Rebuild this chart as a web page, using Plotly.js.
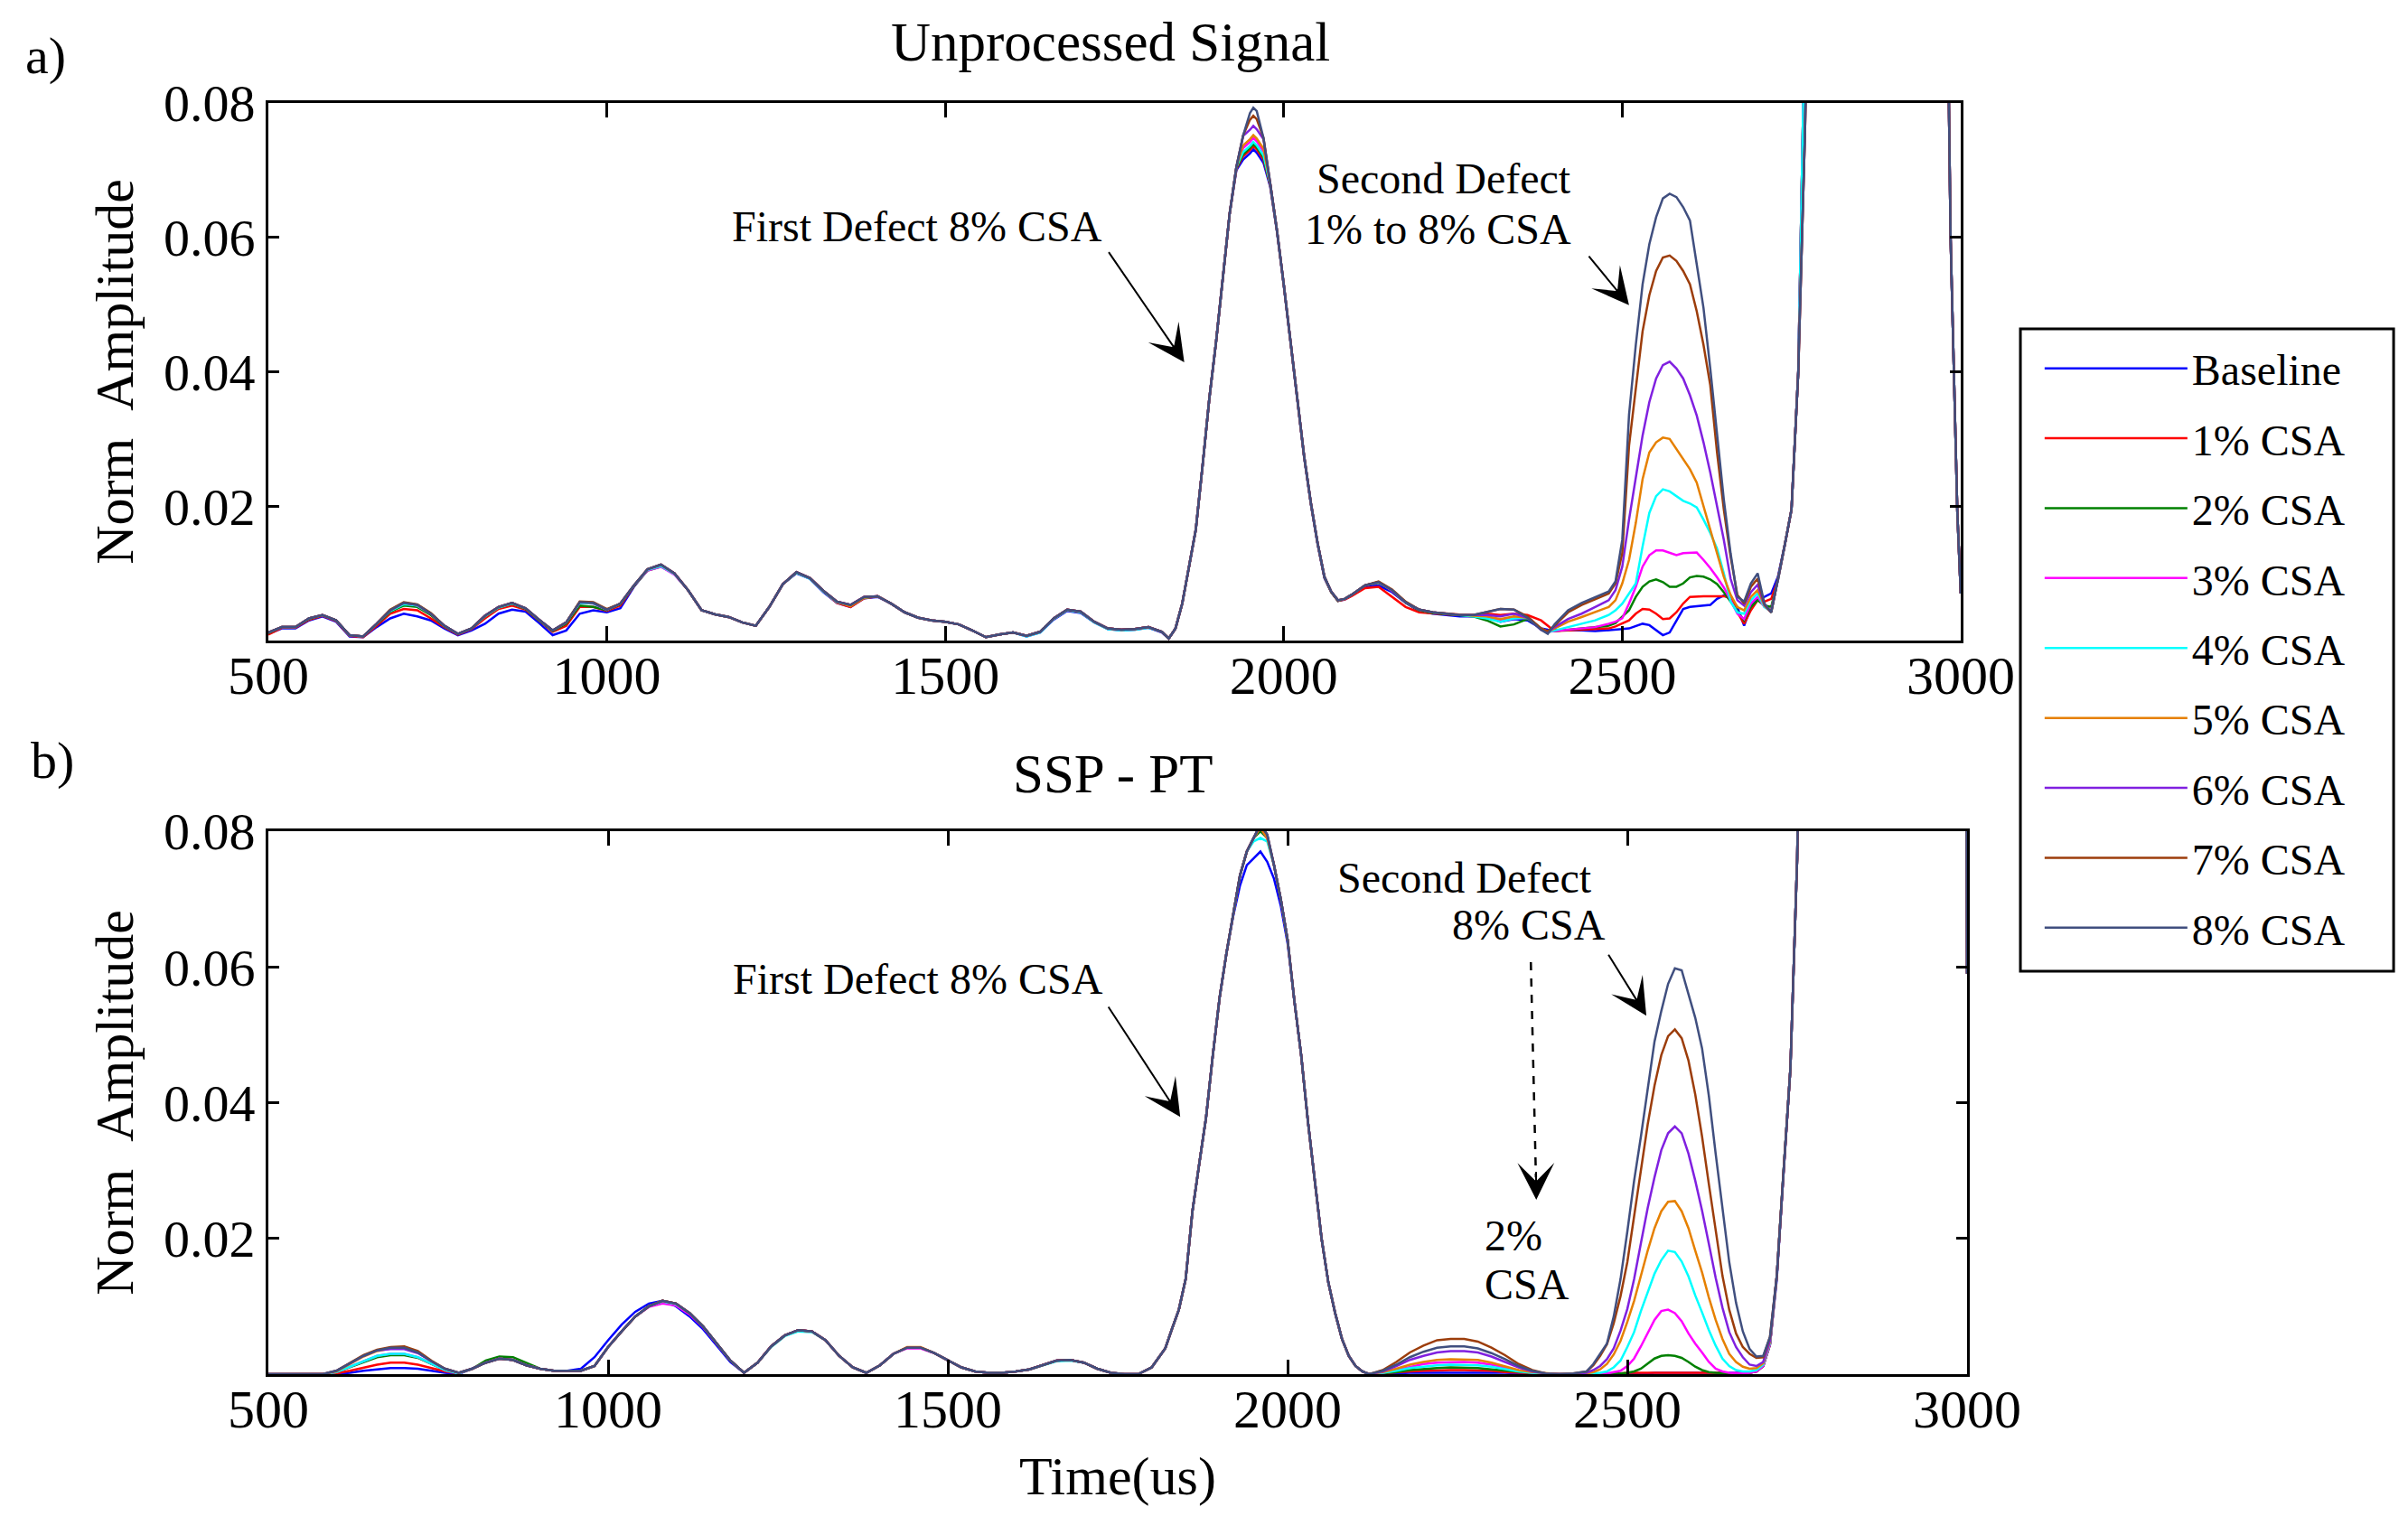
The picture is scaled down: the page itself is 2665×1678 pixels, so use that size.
<!DOCTYPE html>
<html>
<head>
<meta charset="utf-8">
<script src="https://cdn.plot.ly/plotly-3.0.1.min.js"></script>
<style>html,body{margin:0;padding:0;background:#fff}</style>
</head>
<body>
<div id="chart" style="width:2665px;height:1678px"></div>
<script>
// ---------- DATA ----------
const SERIES_NAMES = ['Baseline','1% CSA','2% CSA','3% CSA','4% CSA','5% CSA','6% CSA','7% CSA','8% CSA'];

// time axis, panel a) Unprocessed Signal
const TIME_TOP = [
500,520,540,560,580,600,620,640,660,680,
700,720,740,760,780,800,820,840,860,880,
900,920,940,960,980,1000,1020,1040,1060,1080,
1100,1120,1140,1160,1180,1200,1220,1240,1260,1280,
1300,1320,1340,1360,1380,1400,1420,1440,1460,1480,
1500,1520,1540,1560,1580,1600,1620,1640,1660,1680,
1700,1720,1740,1760,1780,1800,1820,1830,1840,1850,
1860,1870,1880,1890,1900,1910,1920,1930,1940,1950,
1955,1960,1970,1980,1990,2000,2010,2020,2030,2040,
2050,2060,2070,2080,2090,2100,2120,2140,2160,2180,
2200,2220,2240,2260,2280,2300,2320,2340,2360,2380,
2390,2400,2420,2440,2460,2480,2490,2500,2510,2520,
2530,2540,2550,2560,2570,2580,2590,2600,2610,2620,
2630,2640,2650,2660,2670,2680,2690,2700,2710,2720,
2730,2740,2750,2760,2770,2780,2800,2850,2900,2950,
2970,2980,2985,2990,2995,3000];

const TOP_BASELINE = [
.0010,.0018,.0018,.0030,.0036,.0028,.0006,.0005,.0020,.0033,
.0040,.0036,.0030,.0018,.0008,.0015,.0025,.0040,.0046,.0043,
.0026,.0008,.0015,.0040,.0045,.0042,.0048,.0080,.0105,.0112,
.0100,.0075,.0045,.0039,.0035,.0027,.0022,.0050,.0084,.0100,
.0092,.0072,.0056,.0050,.0063,.0065,.0055,.0042,.0034,.0030,
.0028,.0024,.0015,.0005,.0009,.0012,.0006,.0012,.0031,.0044,
.0041,.0027,.0017,.0015,.0016,.0019,.0012,.0003,.0018,.0055,
.0110,.0165,.0260,.0360,.0445,.0540,.0635,.0700,.0716,.0725,
.0731,.0726,.0711,.0675,.0608,.0528,.0445,.0356,.0273,.0203,
.0143,.0093,.0072,.0059,.0061,.0067,.0080,.0082,.0072,.0056,
.0044,.0040,.0038,.0036,.0036,.0035,.0028,.0032,.0030,.0018,
.0016,.0016,.0016,.0015,.0014,.0015,.0016,.0017,.0018,.0022,
.0025,.0023,.0016,.0008,.0012,.0030,.0047,.0050,.0051,.0051,
.0053,.0062,.0067,.0063,.0050,.0022,.0050,.0062,.0065,.0070,
.0095,.0142,.0195,.0400,.0760,.1200,.2500,.6000,.8000,.5000,
.2000,.1000,.0600,.0380,.0190,.0070];

const TOP_CSA1 = [
.0009,.0019,.0019,.0031,.0037,.0029,.0007,.0005,.0022,.0040,
.0047,.0045,.0033,.0020,.0009,.0017,.0033,.0047,.0052,.0046,
.0030,.0013,.0022,.0050,.0050,.0044,.0052,.0081,.0105,.0112,
.0100,.0075,.0045,.0039,.0035,.0027,.0022,.0050,.0084,.0101,
.0093,.0073,.0056,.0050,.0063,.0066,.0055,.0042,.0034,.0030,
.0028,.0024,.0015,.0005,.0009,.0012,.0007,.0013,.0032,.0045,
.0042,.0028,.0018,.0016,.0017,.0020,.0013,.0003,.0018,.0055,
.0110,.0165,.0260,.0360,.0445,.0540,.0635,.0702,.0721,.0730,
.0736,.0731,.0716,.0677,.0609,.0529,.0446,.0357,.0274,.0204,
.0144,.0094,.0072,.0059,.0061,.0066,.0078,.0080,.0065,.0050,
.0042,.0040,.0039,.0038,.0038,.0040,.0038,.0040,.0038,.0030,
.0022,.0014,.0015,.0016,.0017,.0018,.0021,.0025,.0030,.0040,
.0047,.0046,.0040,.0032,.0033,.0042,.0055,.0065,.0066,.0066,
.0066,.0066,.0066,.0063,.0042,.0025,.0045,.0060,.0058,.0062,
.0090,.0142,.0195,.0400,.0760,.1200,.2500,.6000,.8000,.5000,
.2000,.1000,.0600,.0380,.0190,.0070];

const TOP_CSA2 = [
.0011,.0020,.0020,.0032,.0038,.0030,.0008,.0006,.0024,.0043,
.0052,.0050,.0038,.0021,.0010,.0018,.0036,.0049,.0055,.0047,
.0030,.0014,.0025,.0052,.0050,.0045,.0054,.0081,.0104,.0110,
.0099,.0075,.0045,.0039,.0035,.0027,.0022,.0050,.0084,.0101,
.0093,.0074,.0058,.0052,.0064,.0066,.0055,.0042,.0034,.0030,
.0028,.0024,.0015,.0005,.0009,.0012,.0007,.0013,.0033,.0046,
.0043,.0028,.0018,.0016,.0017,.0020,.0013,.0003,.0018,.0055,
.0110,.0165,.0260,.0360,.0445,.0540,.0635,.0703,.0724,.0733,
.0739,.0734,.0719,.0678,.0609,.0529,.0446,.0357,.0274,.0204,
.0144,.0094,.0072,.0059,.0062,.0068,.0082,.0086,.0074,.0056,
.0045,.0041,.0039,.0037,.0036,.0030,.0021,.0024,.0032,.0018,
.0013,.0014,.0016,.0017,.0019,.0022,.0026,.0035,.0045,.0065,
.0080,.0088,.0091,.0087,.0080,.0080,.0085,.0094,.0096,.0095,
.0091,.0084,.0072,.0058,.0044,.0030,.0050,.0060,.0052,.0050,
.0090,.0142,.0195,.0400,.0760,.1200,.2500,.6000,.8000,.5000,
.2000,.1000,.0600,.0380,.0190,.0070];

const TOP_CSA3 = [
.0012,.0020,.0020,.0033,.0038,.0030,.0008,.0006,.0025,.0045,
.0055,.0052,.0040,.0022,.0010,.0018,.0037,.0050,.0056,.0048,
.0031,.0015,.0027,.0056,.0055,.0046,.0055,.0082,.0104,.0110,
.0098,.0075,.0045,.0039,.0035,.0027,.0022,.0050,.0084,.0102,
.0093,.0074,.0058,.0053,.0065,.0066,.0055,.0042,.0034,.0030,
.0028,.0024,.0015,.0005,.0009,.0012,.0007,.0013,.0033,.0046,
.0043,.0028,.0018,.0016,.0017,.0020,.0013,.0003,.0018,.0055,
.0110,.0165,.0260,.0360,.0445,.0540,.0635,.0705,.0733,.0742,
.0748,.0743,.0728,.0679,.0610,.0530,.0447,.0358,.0275,.0205,
.0145,.0095,.0073,.0060,.0062,.0068,.0082,.0087,.0074,.0057,
.0046,.0042,.0040,.0038,.0037,.0035,.0030,.0033,.0034,.0018,
.0013,.0014,.0016,.0018,.0020,.0025,.0028,.0033,.0055,.0080,
.0110,.0127,.0134,.0134,.0130,.0127,.0130,.0131,.0131,.0120,
.0108,.0094,.0079,.0060,.0040,.0032,.0055,.0065,.0050,.0045,
.0090,.0142,.0195,.0400,.0760,.1200,.2500,.6000,.8000,.5000,
.2000,.1000,.0600,.0380,.0190,.0070];

const TOP_CSA4 = [
.0012,.0020,.0020,.0033,.0038,.0030,.0008,.0006,.0025,.0044,
.0054,.0052,.0040,.0022,.0010,.0018,.0036,.0049,.0055,.0048,
.0031,.0015,.0027,.0056,.0055,.0046,.0055,.0082,.0105,.0111,
.0099,.0075,.0045,.0039,.0035,.0027,.0022,.0050,.0084,.0101,
.0092,.0073,.0057,.0052,.0064,.0066,.0055,.0042,.0034,.0030,
.0028,.0024,.0015,.0005,.0009,.0012,.0006,.0012,.0032,.0045,
.0042,.0027,.0017,.0015,.0016,.0019,.0013,.0003,.0018,.0055,
.0110,.0165,.0260,.0360,.0445,.0540,.0635,.0705,.0727,.0736,
.0742,.0737,.0722,.0679,.0610,.0530,.0447,.0358,.0275,.0205,
.0145,.0095,.0073,.0060,.0062,.0068,.0082,.0087,.0075,.0057,
.0046,.0042,.0040,.0037,.0036,.0033,.0028,.0033,.0034,.0018,
.0013,.0015,.0020,.0025,.0030,.0038,.0045,.0055,.0070,.0085,
.0140,.0190,.0215,.0225,.0222,.0215,.0208,.0204,.0198,.0180,
.0160,.0137,.0100,.0058,.0042,.0040,.0060,.0070,.0050,.0043,
.0090,.0142,.0195,.0400,.0760,.1200,.2500,.6000,.8000,.5000,
.2000,.1000,.0600,.0380,.0190,.0070];

const TOP_CSA5 = [
.0012,.0020,.0020,.0033,.0038,.0030,.0008,.0006,.0025,.0045,
.0056,.0053,.0040,.0022,.0010,.0018,.0037,.0050,.0056,.0048,
.0031,.0015,.0027,.0057,.0056,.0046,.0055,.0082,.0106,.0113,
.0100,.0075,.0045,.0039,.0035,.0027,.0022,.0050,.0084,.0102,
.0093,.0074,.0058,.0051,.0064,.0066,.0055,.0042,.0034,.0030,
.0028,.0024,.0015,.0005,.0009,.0012,.0007,.0013,.0033,.0046,
.0043,.0028,.0018,.0016,.0017,.0020,.0013,.0003,.0018,.0055,
.0110,.0165,.0260,.0360,.0445,.0540,.0635,.0705,.0737,.0746,
.0752,.0747,.0732,.0680,.0610,.0530,.0447,.0358,.0275,.0205,
.0145,.0095,.0073,.0060,.0062,.0068,.0082,.0087,.0075,.0057,
.0046,.0042,.0040,.0038,.0037,.0036,.0032,.0036,.0034,.0018,
.0013,.0018,.0028,.0035,.0042,.0050,.0060,.0085,.0120,.0175,
.0240,.0280,.0295,.0302,.0300,.0285,.0270,.0255,.0235,.0200,
.0168,.0130,.0095,.0068,.0050,.0045,.0065,.0075,.0052,.0042,
.0090,.0142,.0195,.0400,.0760,.1200,.2500,.6000,.8000,.5000,
.2000,.1000,.0600,.0380,.0190,.0070];

const TOP_CSA6 = [
.0012,.0020,.0020,.0033,.0038,.0030,.0008,.0006,.0025,.0045,
.0056,.0053,.0040,.0022,.0010,.0018,.0037,.0050,.0056,.0048,
.0031,.0015,.0027,.0057,.0056,.0046,.0055,.0082,.0106,.0113,
.0100,.0075,.0045,.0039,.0035,.0027,.0022,.0050,.0084,.0102,
.0093,.0074,.0058,.0053,.0065,.0066,.0055,.0042,.0034,.0030,
.0028,.0024,.0015,.0005,.0009,.0012,.0007,.0013,.0033,.0046,
.0043,.0028,.0018,.0016,.0017,.0020,.0013,.0003,.0018,.0055,
.0110,.0165,.0260,.0360,.0445,.0540,.0635,.0705,.0751,.0760,
.0766,.0761,.0746,.0680,.0610,.0530,.0447,.0358,.0275,.0205,
.0145,.0095,.0073,.0060,.0062,.0068,.0082,.0087,.0075,.0057,
.0046,.0042,.0040,.0038,.0038,.0038,.0036,.0040,.0034,.0016,
.0012,.0020,.0032,.0040,.0050,.0060,.0075,.0110,.0180,.0245,
.0305,.0355,.0390,.0410,.0415,.0405,.0390,.0365,.0335,.0295,
.0250,.0200,.0150,.0092,.0060,.0052,.0072,.0083,.0053,.0042,
.0090,.0142,.0195,.0400,.0760,.1200,.2500,.6000,.8000,.5000,
.2000,.1000,.0600,.0380,.0190,.0070];

const TOP_CSA7 = [
.0012,.0020,.0020,.0033,.0038,.0030,.0008,.0006,.0025,.0046,
.0057,.0054,.0041,.0022,.0010,.0018,.0037,.0050,.0056,.0048,
.0031,.0015,.0027,.0058,.0057,.0047,.0055,.0082,.0106,.0113,
.0100,.0075,.0045,.0039,.0035,.0027,.0022,.0050,.0084,.0102,
.0093,.0074,.0058,.0053,.0065,.0066,.0055,.0042,.0034,.0030,
.0028,.0024,.0015,.0005,.0009,.0012,.0007,.0013,.0033,.0046,
.0043,.0028,.0018,.0016,.0017,.0020,.0013,.0003,.0018,.0055,
.0110,.0165,.0260,.0360,.0445,.0540,.0635,.0705,.0752,.0775,
.0781,.0776,.0748,.0680,.0610,.0530,.0447,.0358,.0275,.0205,
.0145,.0095,.0073,.0060,.0062,.0068,.0082,.0088,.0076,.0058,
.0046,.0042,.0040,.0038,.0038,.0043,.0047,.0046,.0036,.0018,
.0014,.0022,.0042,.0053,.0062,.0070,.0085,.0130,.0290,.0375,
.0460,.0514,.0550,.0570,.0573,.0565,.0550,.0530,.0490,.0440,
.0380,.0280,.0195,.0125,.0068,.0055,.0080,.0092,.0054,.0042,
.0090,.0142,.0195,.0400,.0760,.1200,.2500,.6000,.8000,.5000,
.2000,.1000,.0600,.0380,.0190,.0070];

const TOP_CSA8 = [
.0012,.0020,.0020,.0033,.0038,.0030,.0008,.0006,.0025,.0045,
.0056,.0053,.0040,.0022,.0010,.0018,.0037,.0050,.0056,.0048,
.0031,.0015,.0027,.0057,.0056,.0046,.0055,.0082,.0106,.0113,
.0100,.0075,.0045,.0039,.0035,.0027,.0022,.0050,.0084,.0102,
.0093,.0074,.0058,.0053,.0065,.0066,.0055,.0042,.0034,.0030,
.0028,.0024,.0015,.0005,.0009,.0012,.0007,.0013,.0033,.0046,
.0043,.0028,.0018,.0016,.0017,.0020,.0013,.0003,.0018,.0055,
.0110,.0165,.0260,.0360,.0445,.0540,.0635,.0705,.0752,.0785,
.0793,.0788,.0748,.0680,.0610,.0530,.0447,.0358,.0275,.0205,
.0145,.0095,.0073,.0060,.0062,.0068,.0082,.0087,.0075,.0057,
.0046,.0042,.0040,.0038,.0038,.0043,.0047,.0046,.0034,.0016,
.0010,.0024,.0045,.0056,.0064,.0073,.0088,.0150,.0336,.0440,
.0530,.0590,.0630,.0658,.0665,.0660,.0645,.0625,.0560,.0495,
.0405,.0306,.0210,.0130,.0065,.0058,.0085,.0100,.0055,.0042,
.0090,.0142,.0195,.0400,.0760,.1200,.2500,.6000,.8000,.5000,
.2000,.1000,.0600,.0380,.0190,.0070];

// time axis, panel b) SSP - PT
const TIME_BOT = [
500,520,540,560,580,600,620,640,660,680,
700,720,740,760,780,800,820,840,860,880,
900,920,940,960,980,1000,1020,1040,1060,1080,
1100,1120,1140,1160,1180,1200,1220,1240,1260,1280,
1300,1320,1340,1360,1380,1400,1420,1440,1460,1480,
1500,1520,1540,1560,1580,1600,1620,1640,1660,1680,
1700,1720,1740,1760,1780,1800,1820,1830,1840,1850,
1860,1870,1880,1890,1900,1910,1920,1930,1940,1950,
1960,1970,1980,1990,2000,2010,2020,2030,2040,2050,
2060,2070,2080,2090,2100,2110,2120,2140,2160,2180,
2200,2220,2240,2260,2280,2300,2320,2340,2360,2380,
2400,2420,2440,2450,2460,2470,2480,2490,2500,2510,
2520,2530,2540,2550,2560,2570,2580,2590,2600,2610,
2620,2630,2640,2650,2660,2670,2680,2690,2700,2710,
2720,2730,2740,2750,2760,2780,2850,2900,2950,2980,
2990,2997,3000];

const BOT_BASELINE = [
0,0,0,0,0,0,.0002,.0005,.0007,.0009,
.0009,.0008,.0005,.0002,0,.0008,.0017,.0023,.0021,.0013,
.0008,.0005,.0005,.0008,.0025,.0050,.0073,.0092,.0104,.0108,
.0100,.0085,.0066,.0042,.0018,.0002,.0017,.0041,.0057,.0065,
.0063,.0050,.0027,.0010,.0002,.0013,.0030,.0039,.0039,.0031,
.0020,.0010,.0004,.0002,.0002,.0004,.0007,.0014,.0020,.0021,
.0017,.0008,.0002,0,0,.0010,.0038,.0067,.0095,.0140,
.0240,.0310,.0378,.0470,.0555,.0620,.0675,.0720,.0750,.0760,
.0770,.0755,.0730,.0690,.0635,.0550,.0470,.0372,.0285,.0200,
.0135,.0090,.0052,.0027,.0012,.0004,0,0,.0001,.0002,
.0002,.0003,.0003,.0003,.0003,.0002,.0002,.0001,0,0,
0,0,0,.0001,.0001,.0001,.0001,.0001,.0001,.0001,
.0001,.0001,.0002,.0002,.0002,.0002,.0002,.0002,.0002,.0002,
.0001,.0001,.0001,.0001,.0001,.0001,.0002,.0004,.0012,.0044,
.0140,.0300,.0450,.0760,.1200,.3000,.8000,1.0000,.7000,.4000,
.3000,.1500,.0590];

const BOT_CSA1 = [
0,0,0,0,0,.0001,.0005,.0010,.0014,.0017,
.0017,.0014,.0009,.0004,.0001,.0008,.0017,.0023,.0021,.0013,
.0008,.0005,.0005,.0005,.0012,.0040,.0063,.0085,.0100,.0108,
.0104,.0090,.0070,.0045,.0020,.0002,.0017,.0041,.0057,.0065,
.0063,.0050,.0027,.0010,.0002,.0013,.0030,.0039,.0039,.0031,
.0020,.0010,.0004,.0002,.0002,.0004,.0007,.0014,.0020,.0021,
.0017,.0008,.0002,0,0,.0010,.0038,.0067,.0095,.0140,
.0240,.0310,.0378,.0470,.0555,.0620,.0680,.0735,.0770,.0790,
.0805,.0790,.0750,.0700,.0640,.0550,.0470,.0372,.0285,.0200,
.0135,.0090,.0052,.0027,.0012,.0004,0,.0001,.0002,.0004,
.0005,.0006,.0006,.0006,.0006,.0005,.0003,.0002,.0001,0,
0,0,0,.0001,.0001,.0001,.0001,.0001,.0002,.0002,
.0002,.0002,.0003,.0003,.0003,.0003,.0003,.0003,.0003,.0003,
.0002,.0002,.0002,.0001,.0001,.0001,.0002,.0004,.0012,.0044,
.0145,.0300,.0450,.0760,.1200,.3000,.8000,1.0000,.7000,.4000,
.3000,.1500,.0590];

const BOT_CSA2 = [
0,0,0,0,0,.0003,.0010,.0018,.0025,.0028,
.0028,.0024,.0015,.0006,.0001,.0008,.0020,.0026,.0025,.0016,
.0008,.0005,.0005,.0005,.0012,.0040,.0063,.0085,.0100,.0108,
.0104,.0090,.0070,.0045,.0020,.0002,.0017,.0041,.0057,.0065,
.0063,.0050,.0027,.0010,.0002,.0013,.0030,.0039,.0039,.0031,
.0020,.0010,.0004,.0002,.0002,.0004,.0007,.0014,.0020,.0021,
.0017,.0008,.0002,0,0,.0010,.0038,.0067,.0095,.0140,
.0240,.0310,.0378,.0470,.0555,.0620,.0680,.0735,.0770,.0790,
.0800,.0790,.0750,.0700,.0640,.0550,.0470,.0372,.0285,.0200,
.0135,.0090,.0052,.0027,.0012,.0004,0,.0001,.0003,.0006,
.0008,.0009,.0010,.0010,.0009,.0007,.0005,.0003,.0001,0,
0,0,0,0,0,0,0,.0001,.0002,.0004,
.0008,.0016,.0023,.0027,.0028,.0027,.0024,.0018,.0011,.0006,
.0003,.0002,.0001,.0001,.0001,.0001,.0002,.0004,.0012,.0044,
.0145,.0300,.0450,.0760,.1200,.3000,.8000,1.0000,.7000,.4000,
.3000,.1500,.0590];

const BOT_CSA3 = [
0,0,0,0,0,.0003,.0011,.0020,.0027,.0030,
.0030,.0025,.0016,.0006,.0001,.0008,.0017,.0023,.0021,.0013,
.0008,.0005,.0005,.0005,.0012,.0040,.0063,.0085,.0099,.0104,
.0101,.0088,.0069,.0045,.0020,.0002,.0017,.0041,.0057,.0065,
.0063,.0050,.0027,.0010,.0002,.0013,.0030,.0038,.0038,.0031,
.0020,.0010,.0004,.0002,.0002,.0004,.0007,.0014,.0020,.0021,
.0017,.0008,.0002,0,0,.0010,.0038,.0067,.0095,.0140,
.0240,.0310,.0378,.0470,.0555,.0620,.0680,.0735,.0770,.0790,
.0805,.0790,.0750,.0700,.0640,.0550,.0470,.0372,.0285,.0200,
.0135,.0090,.0052,.0027,.0012,.0004,0,.0002,.0006,.0011,
.0015,.0017,.0018,.0018,.0017,.0014,.0010,.0005,.0002,0,
0,0,0,0,0,.0001,.0003,.0005,.0012,.0023,
.0041,.0061,.0080,.0093,.0095,.0090,.0078,.0060,.0045,.0032,
.0018,.0008,.0004,.0002,.0001,.0001,.0002,.0004,.0012,.0044,
.0145,.0300,.0450,.0760,.1200,.3000,.8000,1.0000,.7000,.4000,
.3000,.1500,.0590];

const BOT_CSA4 = [
0,0,0,0,0,.0003,.0011,.0020,.0027,.0030,
.0030,.0025,.0016,.0006,.0001,.0008,.0017,.0023,.0021,.0013,
.0008,.0005,.0005,.0005,.0012,.0040,.0063,.0085,.0100,.0107,
.0103,.0090,.0070,.0045,.0020,.0002,.0017,.0040,.0056,.0063,
.0062,.0050,.0027,.0010,.0002,.0013,.0030,.0039,.0039,.0031,
.0020,.0010,.0004,.0002,.0002,.0004,.0007,.0013,.0019,.0020,
.0017,.0008,.0002,0,0,.0010,.0038,.0067,.0095,.0140,
.0240,.0310,.0378,.0470,.0555,.0620,.0680,.0735,.0770,.0785,
.0790,.0785,.0750,.0700,.0640,.0550,.0470,.0372,.0285,.0200,
.0135,.0090,.0052,.0027,.0012,.0004,0,.0002,.0005,.0009,
.0011,.0013,.0014,.0014,.0013,.0011,.0007,.0004,.0002,0,
0,0,0,.0001,.0002,.0004,.0010,.0020,.0040,.0062,
.0093,.0122,.0148,.0168,.0182,.0180,.0166,.0144,.0116,.0091,
.0065,.0042,.0023,.0012,.0006,.0004,.0004,.0006,.0014,.0046,
.0145,.0300,.0450,.0760,.1200,.3000,.8000,1.0000,.7000,.4000,
.3000,.1500,.0590];

const BOT_CSA5 = [
0,0,0,0,0,.0004,.0015,.0026,.0034,.0038,
.0038,.0032,.0019,.0008,.0002,.0008,.0017,.0023,.0021,.0013,
.0008,.0005,.0005,.0005,.0012,.0040,.0063,.0085,.0100,.0108,
.0104,.0090,.0070,.0045,.0020,.0002,.0017,.0041,.0057,.0065,
.0063,.0050,.0027,.0010,.0002,.0013,.0030,.0040,.0040,.0031,
.0020,.0010,.0004,.0002,.0002,.0004,.0007,.0014,.0020,.0021,
.0017,.0008,.0002,0,0,.0010,.0038,.0067,.0095,.0140,
.0240,.0310,.0378,.0470,.0555,.0620,.0680,.0735,.0770,.0790,
.0805,.0790,.0750,.0700,.0640,.0550,.0470,.0372,.0285,.0200,
.0135,.0090,.0052,.0027,.0012,.0004,0,.0003,.0008,.0014,
.0018,.0021,.0022,.0022,.0021,.0017,.0012,.0006,.0003,.0001,
0,0,.0001,.0003,.0007,.0015,.0029,.0049,.0077,.0108,
.0146,.0182,.0215,.0240,.0254,.0255,.0240,.0215,.0182,.0150,
.0113,.0080,.0052,.0030,.0018,.0011,.0008,.0009,.0016,.0048,
.0145,.0300,.0450,.0760,.1200,.3000,.8000,1.0000,.7000,.4000,
.3000,.1500,.0590];

const BOT_CSA6 = [
0,0,0,0,0,.0005,.0016,.0027,.0035,.0037,
.0037,.0031,.0019,.0008,.0002,.0008,.0017,.0023,.0021,.0013,
.0008,.0005,.0005,.0005,.0012,.0040,.0063,.0085,.0100,.0108,
.0104,.0090,.0070,.0045,.0020,.0002,.0017,.0041,.0057,.0065,
.0063,.0050,.0027,.0010,.0002,.0013,.0030,.0039,.0039,.0031,
.0020,.0010,.0004,.0002,.0002,.0004,.0007,.0014,.0020,.0021,
.0017,.0008,.0002,0,0,.0010,.0038,.0067,.0095,.0140,
.0240,.0310,.0378,.0470,.0555,.0620,.0680,.0735,.0770,.0790,
.0810,.0795,.0750,.0700,.0640,.0550,.0470,.0372,.0285,.0200,
.0135,.0090,.0052,.0027,.0012,.0004,0,.0004,.0012,.0021,
.0027,.0032,.0034,.0034,.0032,.0026,.0018,.0010,.0004,.0001,
0,0,.0002,.0006,.0012,.0022,.0038,.0064,.0096,.0140,
.0193,.0245,.0290,.0330,.0355,.0365,.0355,.0325,.0285,.0241,
.0192,.0142,.0098,.0062,.0040,.0025,.0014,.0012,.0018,.0050,
.0145,.0300,.0450,.0760,.1200,.3000,.8000,1.0000,.7000,.4000,
.3000,.1500,.0590];

const BOT_CSA7 = [
0,0,0,0,0,.0005,.0017,.0028,.0036,.0040,
.0041,.0034,.0020,.0008,.0002,.0008,.0017,.0023,.0021,.0013,
.0008,.0005,.0005,.0005,.0012,.0040,.0063,.0085,.0100,.0108,
.0104,.0090,.0070,.0045,.0020,.0002,.0017,.0041,.0057,.0065,
.0063,.0050,.0027,.0010,.0002,.0013,.0030,.0039,.0039,.0031,
.0020,.0010,.0004,.0002,.0002,.0004,.0007,.0014,.0020,.0021,
.0017,.0008,.0002,0,0,.0010,.0038,.0067,.0095,.0140,
.0240,.0310,.0378,.0470,.0555,.0620,.0680,.0735,.0770,.0790,
.0810,.0795,.0750,.0700,.0640,.0550,.0470,.0372,.0285,.0200,
.0135,.0090,.0052,.0027,.0012,.0004,0,.0006,.0018,.0032,
.0042,.0050,.0052,.0052,.0048,.0039,.0028,.0015,.0006,.0001,
0,.0001,.0004,.0013,.0027,.0044,.0075,.0115,.0165,.0232,
.0298,.0368,.0425,.0470,.0498,.0508,.0495,.0462,.0412,.0350,
.0280,.0210,.0145,.0095,.0060,.0040,.0030,.0024,.0025,.0055,
.0145,.0300,.0450,.0760,.1200,.3000,.8000,1.0000,.7000,.4000,
.3000,.1500,.0590];

const BOT_CSA8 = [
0,0,0,0,0,.0005,.0016,.0027,.0035,.0039,
.0039,.0032,.0019,.0008,.0002,.0008,.0017,.0023,.0021,.0013,
.0008,.0005,.0005,.0005,.0012,.0040,.0063,.0085,.0100,.0108,
.0104,.0090,.0070,.0045,.0020,.0002,.0017,.0041,.0057,.0065,
.0063,.0050,.0027,.0010,.0002,.0013,.0030,.0039,.0039,.0031,
.0020,.0010,.0004,.0002,.0002,.0004,.0007,.0014,.0020,.0021,
.0017,.0008,.0002,0,0,.0010,.0038,.0067,.0095,.0140,
.0240,.0310,.0378,.0470,.0555,.0620,.0680,.0735,.0770,.0790,
.0810,.0795,.0750,.0700,.0640,.0550,.0470,.0372,.0285,.0200,
.0135,.0090,.0052,.0027,.0012,.0004,0,.0005,.0014,.0025,
.0033,.0039,.0041,.0041,.0038,.0031,.0022,.0012,.0005,.0001,
0,.0001,.0004,.0015,.0030,.0045,.0085,.0140,.0210,.0285,
.0350,.0420,.0490,.0535,.0575,.0598,.0595,.0560,.0525,.0480,
.0410,.0325,.0245,.0165,.0105,.0063,.0037,.0026,.0027,.0055,
.0145,.0300,.0450,.0760,.1200,.3000,.8000,1.0000,.7000,.4000,
.3000,.1500,.0590];

const Y_TICKS = [0.02, 0.04, 0.06, 0.08];
const Y_TICK_LABELS = ['0.02', '0.04', '0.06', '0.08'];
const X_TICKS = [500, 1000, 1500, 2000, 2500, 3000];

// ---------- STYLE ----------
const COLORS = ['#0000ff','#ff0000','#008000','#ff00ff','#00ffff','#e68000','#8020e0','#9c3d0b','#404f7f'];
const TOP_VALUES = [TOP_BASELINE, TOP_CSA1, TOP_CSA2, TOP_CSA3, TOP_CSA4, TOP_CSA5, TOP_CSA6, TOP_CSA7, TOP_CSA8];
const BOT_VALUES = [BOT_BASELINE, BOT_CSA1, BOT_CSA2, BOT_CSA3, BOT_CSA4, BOT_CSA5, BOT_CSA6, BOT_CSA7, BOT_CSA8];

const FONT = 'Liberation Serif, Times New Roman, serif';
const traces = [];
SERIES_NAMES.forEach((name, i) => {
  traces.push({
    type: 'scatter', mode: 'lines', name: name,
    x: TIME_TOP, y: TOP_VALUES[i], xaxis: 'x', yaxis: 'y',
    line: {color: COLORS[i], width: 2.5},
    legendgroup: 'g' + i, showlegend: true, hoverinfo: 'skip'
  });
});
SERIES_NAMES.forEach((name, i) => {
  traces.push({
    type: 'scatter', mode: 'lines', name: name,
    x: TIME_BOT, y: BOT_VALUES[i], xaxis: 'x2', yaxis: 'y2',
    line: {color: COLORS[i], width: 2.5},
    legendgroup: 'g' + i, showlegend: false, hoverinfo: 'skip'
  });
});

function xAxis(domain, anchor, title) {
  const a = {
    domain: domain, anchor: anchor, range: [500, 3000],
    tickmode: 'array', tickvals: X_TICKS,
    ticks: 'inside', ticklen: 16, tickwidth: 3, tickcolor: '#000',
    showline: true, linewidth: 3, linecolor: '#000', mirror: 'ticks',
    showgrid: false, zeroline: false, ticklabelstandoff: -16,
    tickfont: {family: FONT, size: 60, color: '#000'}
  };
  if (title) a.title = {text: title, font: {family: FONT, size: 60, color: '#000'}, standoff: 20};
  return a;
}
function yAxis(domain, anchor) {
  return {
    domain: domain, anchor: anchor, range: [0, 0.08],
    tickmode: 'array', tickvals: Y_TICKS, ticktext: Y_TICK_LABELS,
    ticks: 'inside', ticklen: 12, tickwidth: 3, tickcolor: '#000',
    showline: true, linewidth: 3, linecolor: '#000', mirror: 'ticks',
    showgrid: false, zeroline: false,
    tickfont: {family: FONT, size: 58, color: '#000'},
    title: {text: 'Norm&nbsp;&nbsp;Amplitude', font: {family: FONT, size: 60, color: '#000'}, standoff: 14}
  };
}

const ann = (x, y, text, xref, yref, extra) => Object.assign({
  x: x, y: y, text: text, xref: xref, yref: yref, showarrow: false,
  xanchor: 'center', yanchor: 'middle',
  font: {family: FONT, size: 48, color: '#000'}
}, extra || {});
const arrow = (x, y, ax, ay, xref, yref) => ({
  x: x, y: y, ax: ax, ay: ay, xref: xref, yref: yref, axref: xref, ayref: yref,
  text: '', showarrow: true, arrowhead: 3, arrowsize: 3.4, arrowwidth: 2, arrowcolor: '#000'
});

const annotations = [
  ann(0.4957, 1.0483, 'Unprocessed Signal', 'paper', 'paper', {font: {family: FONT, size: 61, color: '#000'}}),
  ann(0.4973, 0.4726, 'SSP - PT', 'paper', 'paper', {font: {family: FONT, size: 61, color: '#000'}}),
  ann(-0.1309, 1.0375, 'a)', 'paper', 'paper', {font: {family: FONT, size: 58, color: '#000'}}),
  ann(-0.1271, 0.4826, 'b)', 'paper', 'paper', {font: {family: FONT, size: 58, color: '#000'}}),
  // panel a
  ann(1458, 0.0617, 'First Defect 8% CSA', 'x', 'y'),
  arrow(1853, 0.0414, 1740, 0.0580, 'x', 'y'),
  ann(2236, 0.0688, 'Second Defect', 'x', 'y'),
  ann(2228, 0.0613, '1% to 8% CSA', 'x', 'y'),
  arrow(2510, 0.0499, 2449, 0.0574, 'x', 'y'),
  // panel b
  ann(1456, 0.0583, 'First Defect 8% CSA', 'x2', 'y2'),
  arrow(1842, 0.0379, 1735, 0.0543, 'x2', 'y2'),
  ann(2261, 0.0732, 'Second Defect', 'x2', 'y2'),
  ann(2355, 0.0662, '8% CSA', 'x2', 'y2'),
  arrow(2528, 0.0528, 2471, 0.0620, 'x2', 'y2'),
  arrow(2366, 0.0257, 2365.6, 0.0300, 'x2', 'y2'),
  ann(2287, 0.0204, '2%', 'x2', 'y2', {xanchor: 'left'}),
  ann(2287, 0.0133, 'CSA', 'x2', 'y2', {xanchor: 'left'})
];

const shapes = [
  {type: 'line', xref: 'x2', yref: 'y2', x0: 2358, y0: 0.0607, x1: 2365.5, y1: 0.0290,
   line: {color: '#000', width: 2.5, dash: 'dash'}},
  // legend frame
  {type: 'rect', xref: 'paper', yref: 'paper', x0: 1.0314, x1: 1.2511, y0: 0.3170, y1: 0.8223,
   line: {color: '#000', width: 3}, fillcolor: 'rgba(0,0,0,0)', layer: 'above'}
];

const layout = {
  width: 2665, height: 1678,
  margin: {l: 297, r: 488, t: 114, b: 157, pad: 0},
  paper_bgcolor: '#fff', plot_bgcolor: '#fff',
  font: {family: FONT, size: 54, color: '#000'},
  showlegend: true,
  legend: {
    x: 1.0430, y: 0.8181, xanchor: 'left', yanchor: 'top',
    borderwidth: 0, bgcolor: 'rgba(0,0,0,0)',
    font: {family: FONT, size: 48, color: '#000'},
    itemwidth: 158, tracegroupgap: 12, traceorder: 'grouped'
  },
  xaxis: xAxis([0, 0.99628], 'y', null),
  yaxis: yAxis([0.57712, 1], 'x'),
  xaxis2: xAxis([0, 1], 'y2', 'Time(us)'),
  yaxis2: yAxis([0, 0.42715], 'x2'),
  annotations: annotations,
  shapes: shapes
};

Plotly.newPlot('chart', traces, layout, {staticPlot: true, displayModeBar: false});
</script>
</body>
</html>
